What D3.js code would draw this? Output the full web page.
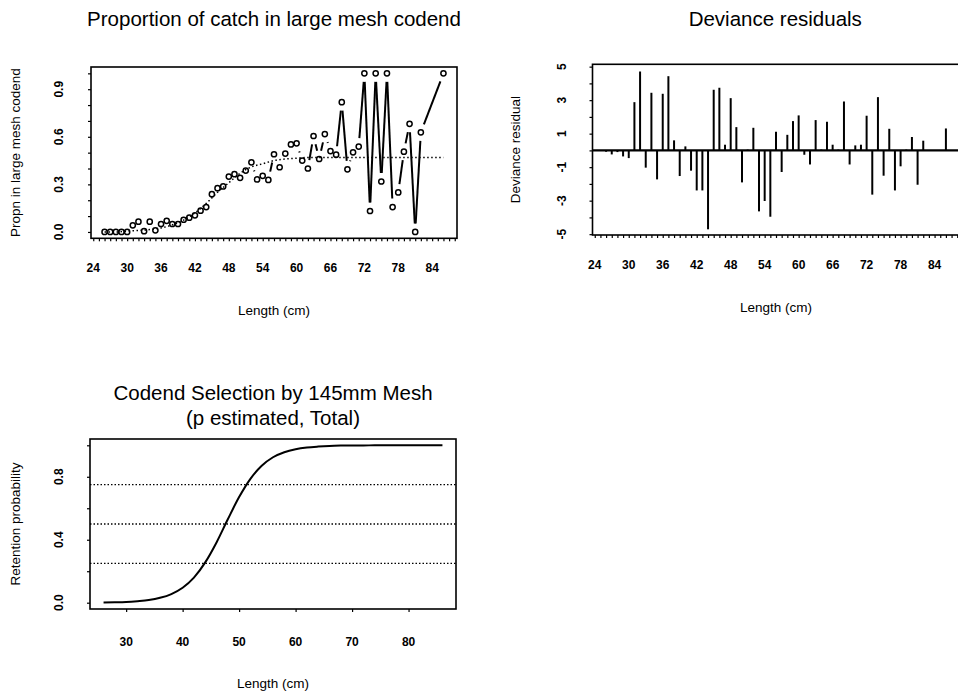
<!DOCTYPE html>
<html>
<head>
<meta charset="utf-8">
<script src="https://cdn.jsdelivr.net/npm/d3@7"></script>
<style>
  body { margin: 0; background: #fff; }
  svg { font-family: "Liberation Sans", Arial, sans-serif; }
  .tick-label { font-size: 12px; font-weight: bold; }
  .axis-title { font-size: 13.5px; }
  .main-title { font-size: 20.5px; }
</style>
</head>
<body>
<svg id="chart" width="958" height="696"></svg>
<script>
// observed lengths (cm) -- 83 to 85 have no fish
const lengths = [26,27,28,29,30,31,32,33,34,35,
                 36,37,38,39,40,41,42,43,44,45,
                 46,47,48,49,50,51,52,53,54,55,
                 56,57,58,59,60,61,62,63,64,65,
                 66,67,68,69,70,71,72,73,74,75,
                 76,77,78,79,80,81,82,86];

const propn = [0,0,0,0,0,0.042,0.065,0.005,0.065,0.01,
               0.05,0.07,0.05,0.05,0.077,0.09,0.105,0.134,0.157,0.238,
               0.276,0.287,0.349,0.364,0.341,0.387,0.439,0.331,0.354,0.328,
               0.49,0.408,0.494,0.552,0.559,0.45,0.40,0.605,0.46,0.617,
               0.51,0.487,0.818,0.395,0.502,0.538,1,0.132,1,0.318,
               1,0.157,0.249,0.506,0.682,0,0.628,1];

const residuals = [-0.08,-0.24,-0.10,-0.36,-0.46,2.88,4.71,-1.03,3.44,-1.73,
                   3.38,4.43,0.60,-1.53,0.24,-1.21,-2.39,-2.39,-4.71,3.62,
                   3.74,0.34,3.12,1.39,-1.91,0.05,1.35,-3.64,-3.02,-3.96,
                   1.11,-1.29,0.93,1.75,2.09,-0.26,-0.84,1.81,0.05,1.71,
                   0.34,0.05,2.92,-0.84,0.30,0.34,2.07,-2.64,3.18,-1.51,
                   1.29,-2.39,-0.95,0.05,0.80,-2.05,0.58,1.31];

// fitted curves, read every 2 cm
const curveLengths = [26,28,30,32,34,36,38,40,42,44,
                      46,48,50,52,54,56,58,60,62,64,
                      66,68,70,72,74,76,78,80,82,84,86];

const fittedPropn = [0,0,0.005,0.01,0.015,0.025,0.045,0.075,0.12,0.18,
                     0.25,0.31,0.37,0.41,0.43,0.45,0.46,0.465,0.47,0.47,
                     0.47,0.47,0.47,0.47,0.47,0.47,0.47,0.47,0.47,0.47,0.47];

const retention = [0.002,0.003,0.005,0.010,0.017,0.031,0.055,0.095,0.159,0.256,
                   0.383,0.530,0.671,0.787,0.870,0.924,0.956,0.975,0.986,0.992,
                   0.996,0.998,0.999,0.999,1,1,1,1,1,1,1];

const refLevels = [0.25, 0.5, 0.75];

const lengthTicks = [24,30,36,42,48,54,60,66,72,78,84];
const lengthTicks3 = [30,40,50,60,70,80];
const propnTicks = [0.0,0.3,0.6,0.9];
const residTicks = [-5,-3,-1,1,3,5];
const retentionTicks = [0.0,0.4,0.8];

const svg = d3.select("#chart");

const box1 = { left: 91, right: 457, top: 67, bottom: 238.3 };
const box2 = { left: 592.5, right: 959.5, top: 64.3, bottom: 235 };
const box3 = { left: 90, right: 456, top: 439, bottom: 609 };

const xDomain = [23.6, 88.4];

function frame(b) {
  svg.append("rect")
    .attr("x", b.left).attr("y", b.top)
    .attr("width", b.right - b.left).attr("height", b.bottom - b.top)
    .attr("fill", "none").attr("stroke", "#000").attr("stroke-width", 1.6);
}

function xAxis(x, b, labels, minor, fmt, offset) {
  svg.append("g")
    .attr("transform", `translate(0,${b.bottom})`)
    .call(d3.axisBottom(x).tickValues(minor).tickSize(3).tickFormat(""))
    .call(g => g.select(".domain").remove())
    .selectAll("line").attr("stroke-width", 1.2);

  svg.append("g").selectAll("text")
    .data(labels)
    .enter()
    .append("text")
    .attr("class", "tick-label")
    .attr("x", d => x(d))
    .attr("y", b.bottom + offset)
    .attr("text-anchor", "middle")
    .text(fmt);
}

function yAxis(y, b, labels, minor, fmt, labelX) {
  svg.append("g")
    .attr("transform", `translate(${b.left},0)`)
    .call(d3.axisLeft(y).tickValues(minor).tickSize(3).tickFormat(""))
    .call(g => g.select(".domain").remove())
    .selectAll("line").attr("stroke-width", 1.2);

  svg.append("g").selectAll("text")
    .data(labels)
    .enter()
    .append("text")
    .attr("class", "tick-label")
    .attr("transform", d => `translate(${labelX},${y(d)}) rotate(-90)`)
    .attr("text-anchor", "middle")
    .text(fmt);
}

function axisTitles(b, xTitle, yTitle, yTitleX, xTitleY) {
  svg.append("text")
    .attr("class", "axis-title")
    .attr("x", (b.left + b.right) / 2)
    .attr("y", xTitleY)
    .attr("text-anchor", "middle")
    .text(xTitle);

  svg.append("text")
    .attr("class", "axis-title")
    .attr("transform", `translate(${yTitleX},${(b.top + b.bottom) / 2}) rotate(-90)`)
    .attr("text-anchor", "middle")
    .text(yTitle);
}

// ---- panel 1: proportion in large mesh codend
const x1 = d3.scaleLinear().domain(xDomain).range([box1.left, box1.right]);
const y1 = d3.scaleLinear().domain([-0.04, 1.04]).range([box1.bottom, box1.top]);

const pts = lengths.map((l, i) => [x1(l), y1(propn[i])]);

// fitted proportion, dotted
svg.append("path")
  .datum(curveLengths.map((l, i) => [l, fittedPropn[i]]))
  .attr("fill", "none")
  .attr("stroke", "#000")
  .attr("stroke-width", 1.5)
  .attr("stroke-dasharray", "1.5,2.5")
  .attr("d", d3.line().x(d => x1(d[0])).y(d => y1(d[1])).curve(d3.curveMonotoneX));

// joining segments with a gap round each point (type "b")
const gap = 8.5;
const segs = [];
for (let i = 1; i < pts.length; i++) {
  const [ax, ay] = pts[i - 1], [bx, by] = pts[i];
  const dist = Math.hypot(bx - ax, by - ay);
  if (dist <= 2 * gap) continue;
  const ux = (bx - ax) / dist, uy = (by - ay) / dist;
  segs.push([ax + ux * gap, ay + uy * gap, bx - ux * gap, by - uy * gap]);
}

svg.append("g").selectAll("line")
  .data(segs)
  .enter()
  .append("line")
  .attr("x1", d => d[0]).attr("y1", d => d[1])
  .attr("x2", d => d[2]).attr("y2", d => d[3])
  .attr("stroke", "#000")
  .attr("stroke-width", 2);

svg.append("g").selectAll("circle")
  .data(pts)
  .enter()
  .append("circle")
  .attr("cx", d => d[0])
  .attr("cy", d => d[1])
  .attr("r", 2.6)
  .attr("fill", "none")
  .attr("stroke", "#000")
  .attr("stroke-width", 1.5);

frame(box1);
xAxis(x1, box1, lengthTicks, d3.range(24, 89), d => d, 34);
yAxis(y1, box1, propnTicks, d3.range(0, 11).map(d => d / 10), d => d.toFixed(1), 63);
axisTitles(box1, "Length (cm)", "Propn in large mesh codend", 20, 315);

svg.append("text")
  .attr("class", "main-title")
  .attr("x", (box1.left + box1.right) / 2)
  .attr("y", 26)
  .attr("text-anchor", "middle")
  .text("Proportion of catch in large mesh codend");

// ---- panel 2: deviance residuals
const x2 = d3.scaleLinear().domain(xDomain).range([box2.left, box2.right]);
const y2 = d3.scaleLinear().domain([-5.05, 5.14]).range([box2.bottom, box2.top]);

svg.append("g").selectAll("line")
  .data(lengths)
  .enter()
  .append("line")
  .attr("x1", d => x2(d)).attr("x2", d => x2(d))
  .attr("y1", y2(0))
  .attr("y2", (d, i) => y2(residuals[i]))
  .attr("stroke", "#000")
  .attr("stroke-width", 2);

svg.append("line")
  .attr("x1", box2.left).attr("x2", box2.right)
  .attr("y1", y2(0)).attr("y2", y2(0))
  .attr("stroke", "#000")
  .attr("stroke-width", 2.2);

frame(box2);
xAxis(x2, box2, lengthTicks, d3.range(24, 89), d => d, 34);
yAxis(y2, box2, residTicks, d3.range(-5, 6), d => d, 566);
axisTitles(box2, "Length (cm)", "Deviance residual", 520, 312);

svg.append("text")
  .attr("class", "main-title")
  .attr("x", (box2.left + 958) / 2)
  .attr("y", 26)
  .attr("text-anchor", "middle")
  .text("Deviance residuals");

// ---- panel 3: selection curve
const x3 = d3.scaleLinear().domain(xDomain).range([box3.left, box3.right]);
const y3 = d3.scaleLinear().domain([-0.04, 1.04]).range([box3.bottom, box3.top]);

svg.append("g").selectAll("line")
  .data(refLevels)
  .enter()
  .append("line")
  .attr("x1", box3.left).attr("x2", box3.right)
  .attr("y1", d => y3(d)).attr("y2", d => y3(d))
  .attr("stroke", "#000")
  .attr("stroke-width", 1.3)
  .attr("stroke-dasharray", "1.5,2");

svg.append("path")
  .datum(curveLengths.map((l, i) => [l, retention[i]]))
  .attr("fill", "none")
  .attr("stroke", "#000")
  .attr("stroke-width", 2)
  .attr("d", d3.line().x(d => x3(d[0])).y(d => y3(d[1])).curve(d3.curveMonotoneX));

frame(box3);
xAxis(x3, box3, lengthTicks3, lengthTicks3, d => d, 37);
yAxis(y3, box3, retentionTicks, d3.range(0, 6).map(d => d / 5), d => d.toFixed(1), 63);
axisTitles(box3, "Length (cm)", "Retention probability", 20, 688);

svg.append("text")
  .attr("class", "main-title")
  .attr("x", (box3.left + box3.right) / 2)
  .attr("y", 400)
  .attr("text-anchor", "middle")
  .text("Codend Selection by 145mm Mesh");

svg.append("text")
  .attr("class", "main-title")
  .attr("x", (box3.left + box3.right) / 2)
  .attr("y", 425)
  .attr("text-anchor", "middle")
  .text("(p estimated, Total)");
</script>
</body>
</html>
